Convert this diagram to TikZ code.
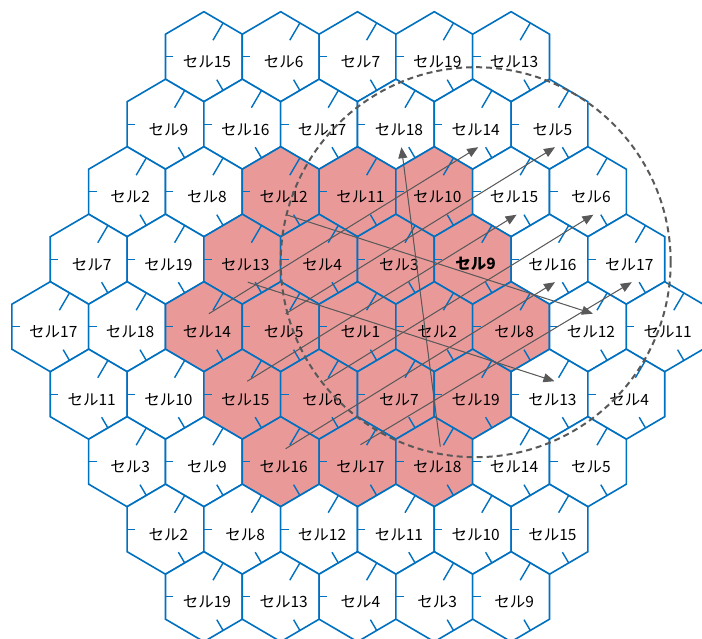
\documentclass[tikz,border=0pt]{standalone}
\usepackage{fontspec}
\setmainfont{Noto Sans CJK JP}
\usepackage{tikz}
\usetikzlibrary{arrows.meta,calc}
\definecolor{cellblue}{RGB}{0,112,192}
\definecolor{cellpink}{RGB}{234,153,153}
\definecolor{movegray}{RGB}{89,89,89}
\tikzset{
  hexedge/.style={draw=cellblue, line width=1.6pt},
  hextick/.style={draw=cellblue, line width=1.4pt},
  celllabel/.style={font=\fontsize{15.5}{15.5}\selectfont, inner sep=0pt},
  movearrow/.style={-{Triangle[length=11pt,width=9pt]}, draw=movegray, fill=movegray, line width=1pt},
  reusering/.style={draw=movegray, line width=2pt, dash pattern=on 6pt off 4pt}
}

\begin{document}
\begin{tikzpicture}[x=1pt, y=1pt]
  \useasboundingbox (-357.5,-311.3) rectangle (344.5,326.7);
  % cells, row by row from the top
  \foreach \r/\labs in {0/{15,6,7,19,13}, 1/{9,16,17,18,14,5}, 2/{2,8,12,11,10,15,6},
      3/{7,19,13,4,3,9,16,17}, 4/{17,18,14,5,1,2,8,12,11}, 5/{11,10,15,6,7,19,13,4},
      6/{3,9,16,17,18,14,5}, 7/{2,8,12,11,10,15}, 8/{19,13,4,3,9}} {
    \pgfmathtruncatemacro\n{9-abs(\r-4)}
    \foreach \lab [count=\i from 0] in \labs {
      \pgfmathsetmacro\x{(\i-(\n-1)/2)*76.8}
      \pgfmathsetmacro\y{(4-\r)*67.5}
      \pgfmathtruncatemacro\pink{(\r>1)&&(\r<7)&&(\i>1)&&(\i<\n-2)}
      \pgfmathtruncatemacro\home{(\r==3)&&(\i==5)}
      \ifnum\pink=1 \def\cellfill{cellpink}\else\def\cellfill{white}\fi
      \draw[hexedge, fill=\cellfill] (\x,\y) +(0,45) -- +(38.4,22.5) -- +(38.4,-22.5)
        -- +(0,-45) -- +(-38.4,-22.5) -- +(-38.4,22.5) -- cycle;
      \draw[hextick] (\x,\y) +(-38.4,0) -- +(-30.4,0);
      \draw[hextick] (\x,\y) +(19.2,33.75) -- +(9.1,16.5);
      \draw[hextick] (\x,\y) +(19.2,-33.75) -- +(12.9,-23);
      \node[celllabel] (c\r-\i) at (\x+3,\y-5) {\ifnum\home=1 \bfseries\fi セル\lab};
    }
  }

  \draw[movearrow] ($(c4-2.center)+(2,18)$) -- ($(c1-4.center)+(2.5,-18)$);
  \draw[movearrow] ($(c4-3.center)+(2,18)$) -- ($(c1-5.center)+(2.5,-18)$);
  \draw[movearrow] ($(c5-2.center)+(2,18)$) -- ($(c2-5.center)+(2.5,-18)$);
  \draw[movearrow] ($(c5-3.center)+(2,18)$) -- ($(c2-6.center)+(2.5,-18)$);
  \draw[movearrow] ($(c6-2.center)+(2,18)$) -- ($(c3-6.center)+(2.5,-18)$);
  \draw[movearrow] ($(c6-3.center)+(0,22)$) -- ($(c3-7.center)+(2.5,-18)$);
  \draw[movearrow] ($(c6-4.center)+(3,20)$) -- ($(c1-3.center)+(2.5,-18)$);
  \draw[movearrow] ($(c2-2.center)+(2.5,-18)$) -- ($(c4-7.center)+(2,18)$);
  \draw[movearrow] ($(c3-2.center)+(2.5,-18)$) -- ($(c5-6.center)+(2,18)$);

  \draw[reusering] ($(c3-5.center)+(0,2)$) circle[radius=195];
\end{tikzpicture}
\end{document}
